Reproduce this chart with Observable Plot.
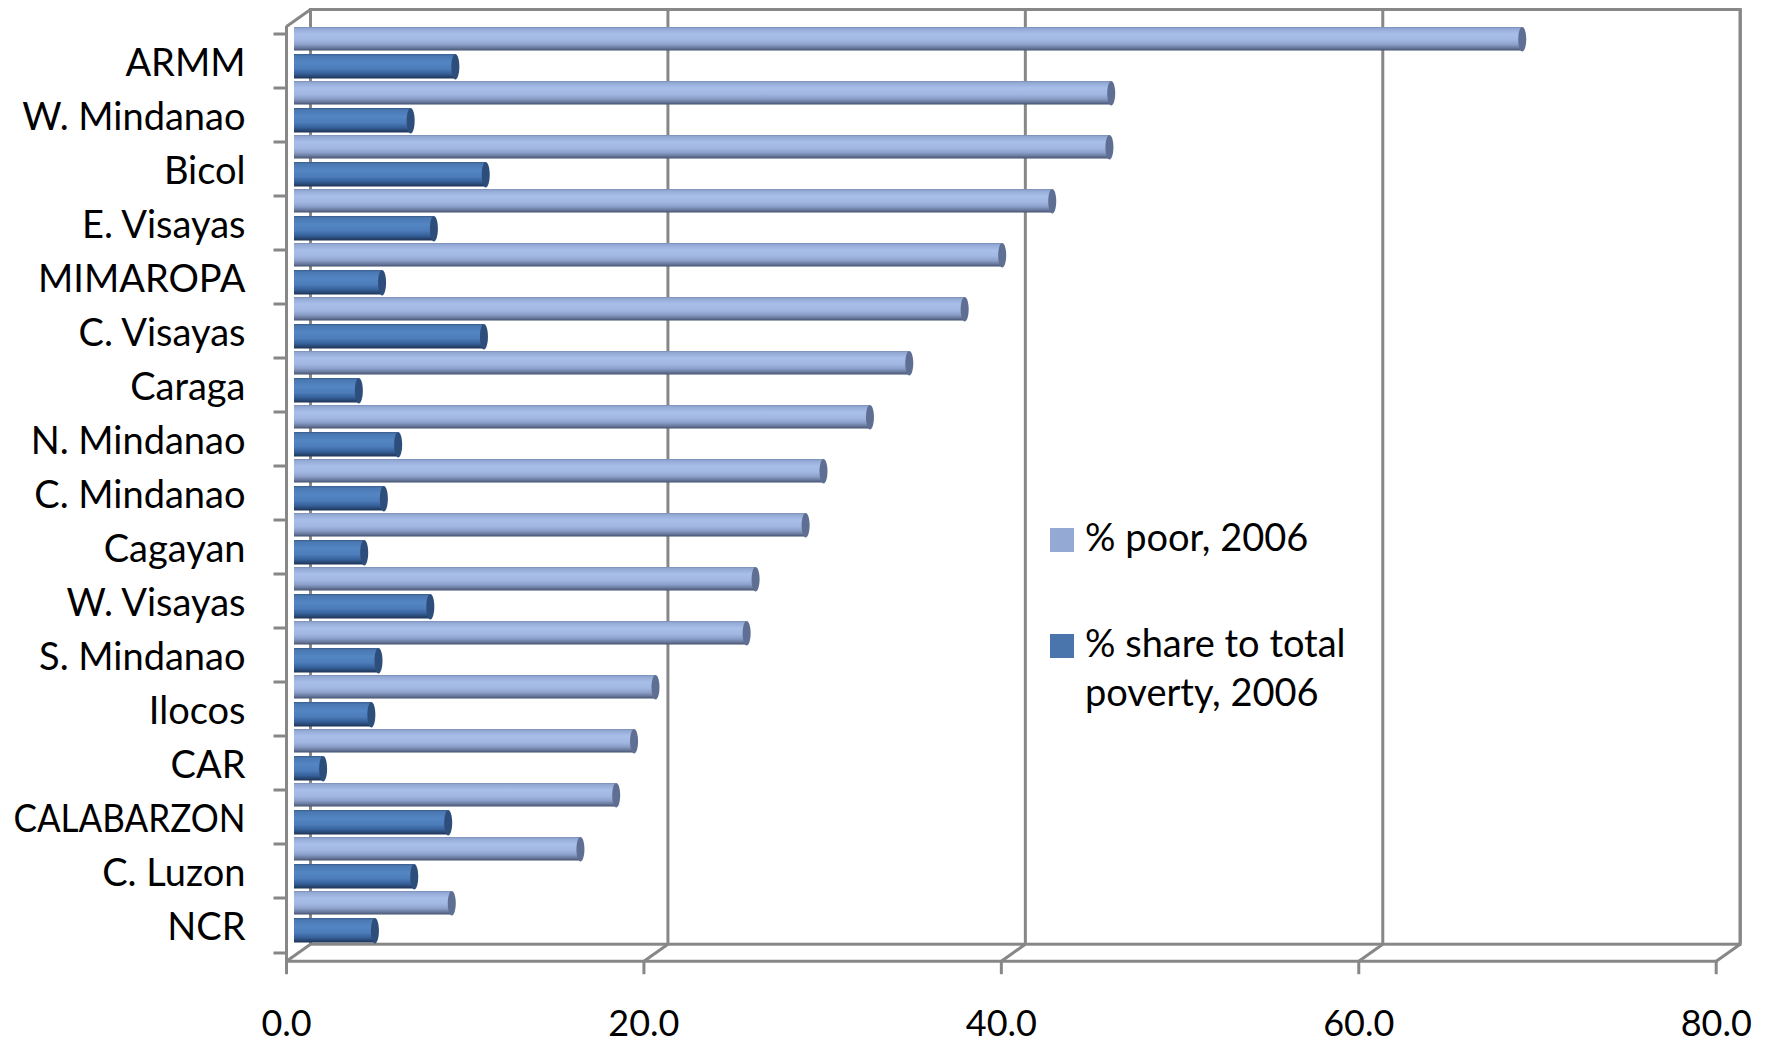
<!DOCTYPE html>
<html>
<head>
<meta charset="utf-8">
<script src="https://cdn.jsdelivr.net/npm/d3@7"></script>
<script src="https://cdn.jsdelivr.net/npm/@observablehq/plot@0.6"></script>
<style>
  html, body { margin: 0; padding: 0; background: #fff; }
  #wrap { position: relative; width: 1771px; height: 1044px; font-family: Lato, "Open Sans", sans-serif; }
  .lg-sw { position: absolute; width: 24px; height: 24px; }
  .lg-tx { position: absolute; font-size: 38px; line-height: 49px; color: #000; white-space: nowrap; }
</style>
</head>
<body>
<div id="wrap"></div>
<script>
// ---- data ----
const regions = ["ARMM","W. Mindanao","Bicol","E. Visayas","MIMAROPA","C. Visayas","Caraga","N. Mindanao","C. Mindanao","Cagayan","W. Visayas","S. Mindanao","Ilocos","CAR","CALABARZON","C. Luzon","NCR"];
const poor2006 = [68.7,45.7,45.6,42.4,39.6,37.5,34.4,32.2,29.6,28.6,25.8,25.3,20.2,19.0,18.0,16.0,8.8];
const share2006 = [9.0,6.5,10.7,7.8,4.9,10.6,3.6,5.8,5.0,3.9,7.6,4.7,4.3,1.6,8.6,6.7,4.5];
const xTicks = [0,20,40,60,80];
const seriesNames = ["% poor, 2006", "% share to total|poverty, 2006"];

const data = regions.map((r, i) => ({region: r, poor: poor2006[i], share: share2006[i]}));

// ---- layout ----
const W = 1771, H = 1044;
const mL = 286, mR = 55.3, mT = 26, mB = 83.3;
const band = (H - mT - mB) / regions.length;
const depthX = 24, depthY = -17;   // 3D wall depth offset
const barDX = 8, barDY = -7;       // bars sit slightly behind the front plane
const grid = "#878787";

const slant = {draw(c) { c.moveTo(0, 0); c.lineTo(depthX, depthY); }};
const hTick = {draw(c) { c.moveTo(-13, 0); c.lineTo(0, 0); }};
const vTick = {draw(c) { c.moveTo(0, 0); c.lineTo(0, 13); }};
const ellipse = (rx, ry) => ({draw(c) {
  const k = 0.5523;
  c.moveTo(rx, 0);
  c.bezierCurveTo(rx, ry * k, rx * k, ry, 0, ry);
  c.bezierCurveTo(-rx * k, ry, -rx, ry * k, -rx, 0);
  c.bezierCurveTo(-rx, -ry * k, -rx * k, -ry, 0, -ry);
  c.bezierCurveTo(rx * k, -ry, rx, -ry * k, rx, 0);
  c.closePath();
}});

const lightH = 24.5, darkTop = 27, darkBottomInset = 2.5;
const darkH = band - darkTop - darkBottomInset;
const lightCenterDy = lightH / 2 + barDY - band / 2;
const darkCenterDy = darkTop + darkH / 2 + barDY - band / 2;

const chart = Plot.plot({
  width: W, height: H,
  marginLeft: mL, marginRight: mR, marginTop: mT, marginBottom: mB,
  style: {fontFamily: "Lato, 'Open Sans', sans-serif", background: "white", color: "black"},
  x: {domain: [0, 80]},
  y: {domain: regions, padding: 0},
  marks: [
    // back wall
    Plot.frame({stroke: grid, strokeWidth: 3, dx: depthX, dy: depthY}),
    Plot.ruleX(xTicks, {x: d => d, stroke: grid, strokeWidth: 3, dx: depthX, dy: depthY}),
    // floor depth lines
    Plot.dot(xTicks, {x: d => d, frameAnchor: "bottom", symbol: slant, fill: "none", stroke: grid, strokeWidth: 3}),
    Plot.dot([0], {x: d => d, frameAnchor: "top", symbol: slant, fill: "none", stroke: grid, strokeWidth: 3}),
    // front axes
    Plot.ruleX([0], {stroke: grid, strokeWidth: 3}),
    Plot.frame({anchor: "bottom", stroke: grid, strokeWidth: 3}),
    Plot.dot(xTicks, {x: d => d, frameAnchor: "bottom", symbol: vTick, fill: "none", stroke: grid, strokeWidth: 3}),
    Plot.dot(regions, {y: d => d, frameAnchor: "left", dy: -band / 2, symbol: hTick, fill: "none", stroke: grid, strokeWidth: 3}),
    Plot.dot(regions.slice(-1), {y: d => d, frameAnchor: "left", dy: band / 2, symbol: hTick, fill: "none", stroke: grid, strokeWidth: 3}),
    // bars
    Plot.barX(data, {y: "region", x: "poor", insetTop: 0, insetBottom: band - lightH, dx: barDX, dy: barDY, fill: "url(#gLight)"}),
    Plot.dot(data, {y: "region", x: "poor", dx: barDX, dy: lightCenterDy, symbol: ellipse(4, lightH / 2), fill: "#5E6F93", stroke: "none"}),
    Plot.barX(data, {y: "region", x: "share", insetTop: darkTop, insetBottom: darkBottomInset, dx: barDX, dy: barDY, fill: "url(#gDark)"}),
    Plot.dot(data, {y: "region", x: "share", dx: barDX, dy: darkCenterDy, symbol: ellipse(4, darkH / 2), fill: "#2D4E7B", stroke: "none"}),
    // axis labels
    Plot.axisY({tickSize: 0, tickPadding: 41, fontSize: 38, dy: 2, label: null}),
    Plot.axisX({ticks: xTicks, tickSize: 0, tickPadding: 49, fontSize: 36, tickFormat: d3.format(".1f"), label: null})
  ]
});

// gradient definitions for the cylinder shading
const ns = "http://www.w3.org/2000/svg";
const defs = document.createElementNS(ns, "defs");
function grad(id, stops) {
  const g = document.createElementNS(ns, "linearGradient");
  g.setAttribute("id", id);
  g.setAttribute("x1", "0"); g.setAttribute("y1", "0");
  g.setAttribute("x2", "0"); g.setAttribute("y2", "1");
  for (const [o, c] of stops) {
    const s = document.createElementNS(ns, "stop");
    s.setAttribute("offset", o);
    s.setAttribute("stop-color", c);
    g.appendChild(s);
  }
  defs.appendChild(g);
}
grad("gLight", [[0, "#7A8CB3"], [0.07, "#93A9D5"], [0.3, "#A8BFE9"], [0.55, "#A2B8E3"], [0.75, "#8B9FC9"], [0.9, "#66769A"], [1, "#46526E"]]);
grad("gDark", [[0, "#3A5C8C"], [0.08, "#4A78B2"], [0.35, "#5486C4"], [0.6, "#4C7CB9"], [0.8, "#36609A"], [0.93, "#26436C"], [1, "#1D3354"]]);
chart.insertBefore(defs, chart.firstChild);

const wrap = document.getElementById("wrap");
wrap.appendChild(chart);

// keep category labels inside the left margin (condense the widest ones)
function fitLabels() {
  const maxW = 232;
  chart.querySelectorAll('g[aria-label="y-axis tick label"] text').forEach(t => {
    t.removeAttribute("textLength");
    const w = t.getComputedTextLength();
    if (w > maxW) {
      t.setAttribute("textLength", maxW);
      t.setAttribute("lengthAdjust", "spacingAndGlyphs");
    }
  });
}
fitLabels();
if (document.fonts && document.fonts.ready) document.fonts.ready.then(fitLabels);

// legend (inside plot area)
const legendColors = ["#94A9D3", "#4A74AC"];
const legendTop = [528, 634];
seriesNames.forEach((name, i) => {
  const sw = document.createElement("div");
  sw.className = "lg-sw";
  sw.style.left = "1050px";
  sw.style.top = legendTop[i] + "px";
  sw.style.background = legendColors[i];
  wrap.appendChild(sw);
  const tx = document.createElement("div");
  tx.className = "lg-tx";
  tx.style.left = "1085px";
  tx.style.top = (legendTop[i] - 16) + "px";
  tx.innerHTML = name.split("|").join("<br>");
  wrap.appendChild(tx);
});
</script>
</body>
</html>
